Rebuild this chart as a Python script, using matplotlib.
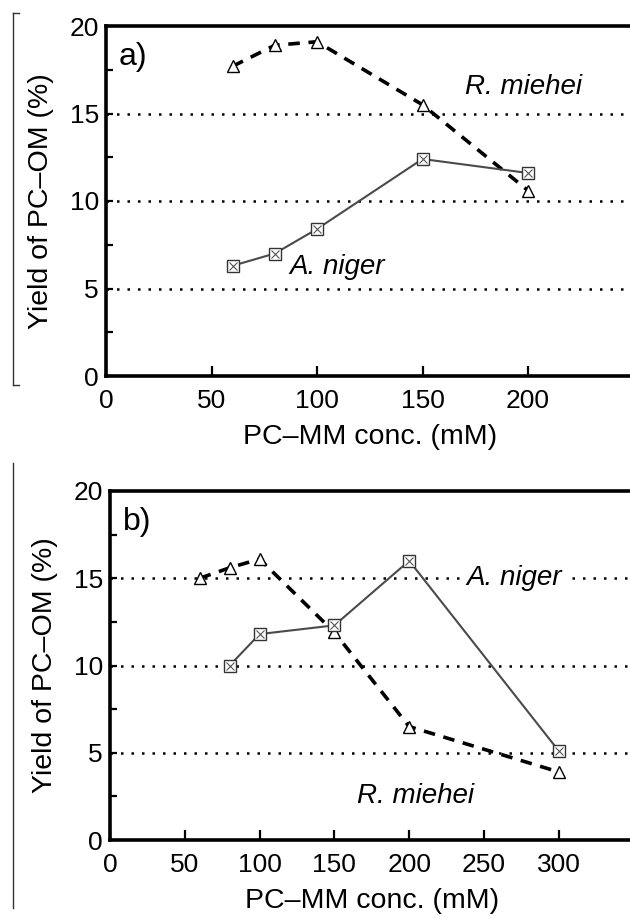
import numpy as np
import matplotlib.pyplot as plt
from matplotlib.lines import Line2D
from matplotlib.ticker import MultipleLocator

plt.rcParams['font.family'] = ['Liberation Sans', 'DejaVu Sans']

# panel a) data
a_conc_rm = [60, 80, 100, 150, 200]
a_yield_rm = [17.7, 18.9, 19.1, 15.5, 10.6]
a_conc_an = [60, 80, 100, 150, 200]
a_yield_an = [6.3, 7.0, 8.4, 12.4, 11.6]

# panel b) data
b_conc_rm = [60, 80, 100, 150, 200, 300]
b_yield_rm = [15.0, 15.6, 16.1, 11.9, 6.5, 3.9]
b_conc_an = [80, 100, 150, 200, 300]
b_yield_an = [10.0, 11.8, 12.3, 16.0, 5.1]

grid_levels = [5, 10, 15]
a_xticks = [0, 50, 100, 150, 200]
b_xticks = [0, 50, 100, 150, 200, 250, 300]

W, H = 630, 917
fig = plt.figure(figsize=(W / 100, H / 100), dpi=100)


def px_axes(left, right, top, bottom):
    # axes rectangle given in pixel coords of the picture
    return fig.add_axes([left / W, 1 - bottom / H, (right - left) / W, (bottom - top) / H])


def style_panel(ax, xmax, xticks, tag):
    ax.set_xlim(0, xmax)
    ax.set_ylim(0, 20)
    ax.set_xticks(xticks)
    ax.set_yticks([0, 5, 10, 15, 20])
    ax.yaxis.set_minor_locator(MultipleLocator(2.5))
    ax.tick_params(axis='both', which='both', direction='in', width=1.6, labelsize=19)
    ax.tick_params(axis='x', which='major', length=7, pad=9)
    ax.tick_params(axis='y', which='major', length=5, pad=5)
    ax.tick_params(axis='y', which='minor', length=5)
    for side in ['left', 'bottom', 'top']:
        ax.spines[side].set_linewidth(2.6)
    ax.spines['right'].set_visible(False)
    for lv in grid_levels:
        ax.axhline(lv, color='black', lw=1.8, ls=(0, (1, 3.2)), zorder=1)
    ax.set_xlabel('PC\u2013MM conc. (mM)', fontsize=20.5, labelpad=8)
    ax.set_ylabel('Yield of PC\u2013OM (%)', fontsize=20.5, labelpad=11)
    ax.text(0.024, 0.912, tag, transform=ax.transAxes, fontsize=23, va='center', ha='left')


def draw_series(ax, xr, yr, xn, yn):
    ax.plot(xr, yr, color='black', lw=2.6, ls=(0, (3.2, 2.4)), marker='^', ms=8,
            mfc='white', mec='black', mew=1.0, zorder=3)
    ax.plot(xn, yn, color='#4a4a4a', lw=1.5, marker='s', ms=8,
            mfc='white', mec='#333333', mew=1.0, zorder=3)
    ax.plot(xn, yn, ls='none', marker='x', ms=6, mec='#555555', mew=0.8, zorder=4)


# ---- panel a ----
ax1 = px_axes(106, 633.5, 26, 376)
style_panel(ax1, 250, a_xticks, 'a)')
draw_series(ax1, a_conc_rm, a_yield_rm, a_conc_an, a_yield_an)
ax1.text(170, 16.5, 'R. miehei', fontsize=20, style='italic', va='center', ha='left')
ax1.text(87, 6.2, 'A. niger', fontsize=20, style='italic', va='center', ha='left')

# ---- panel b ----
ax2 = px_axes(110, 633.6, 491, 840)
style_panel(ax2, 350, b_xticks, 'b)')
draw_series(ax2, b_conc_rm, b_yield_rm, b_conc_an, b_yield_an)
ax2.text(238, 15, 'A. niger', fontsize=20, style='italic', va='center', ha='left',
         bbox=dict(facecolor='white', edgecolor='none', pad=3), zorder=2)
ax2.text(165, 2.5, 'R. miehei', fontsize=20, style='italic', va='center', ha='left')

# page-margin brackets seen in the scan
for y0, y1 in [(13, 385), (463, 908)]:
    fig.add_artist(Line2D([13 / W, 13 / W], [1 - y0 / H, 1 - y1 / H], color='#333333', lw=1.0))
fig.add_artist(Line2D([13 / W, 19 / W], [1 - 13 / H, 1 - 13 / H], color='#333333', lw=1.0))
fig.add_artist(Line2D([13 / W, 19 / W], [1 - 385 / H, 1 - 385 / H], color='#333333', lw=1.0))

fig.savefig('out.png', dpi=100)
